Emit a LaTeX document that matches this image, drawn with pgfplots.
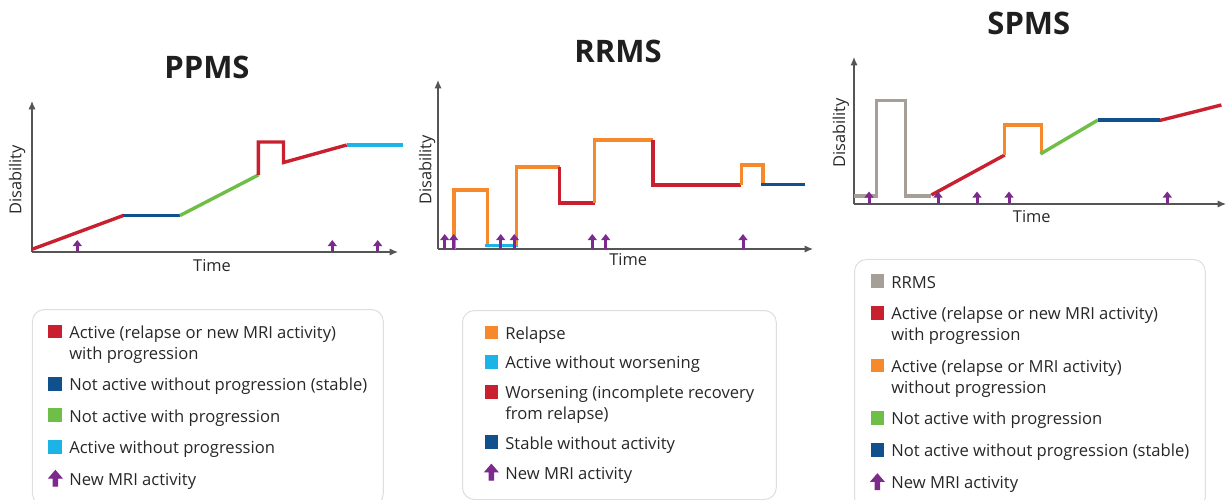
\documentclass[border=0pt]{standalone}
\usepackage{fontspec}
\setmainfont{Open Sans}
\usepackage{pgfplots}
\pgfplotsset{compat=1.18}
\usetikzlibrary{arrows.meta}
\definecolor{cRed}{RGB}{200,32,46}
\definecolor{cBlue}{RGB}{16,80,140}
\definecolor{cGreen}{RGB}{110,190,72}
\definecolor{cCyan}{RGB}{28,180,230}
\definecolor{cOrange}{RGB}{247,137,45}
\definecolor{cGray}{RGB}{166,159,151}
\definecolor{cPurple}{RGB}{125,42,142}
\definecolor{cAxis}{RGB}{85,85,85}
\definecolor{cText}{RGB}{40,40,40}
\definecolor{cBorder}{RGB}{222,222,222}

\newcommand\sqimg[1]{\addlegendimage{legend image code/.code={\fill[#1,sharp corners] (0pt,0.2pt) rectangle (6.4pt,6.6pt);}}}
\newcommand\arrimg{\addlegendimage{legend image code/.code={\fill[cPurple,sharp corners] (2.1pt,-0.4pt) -- (2.1pt,3.7pt) -- (0pt,3.7pt) -- (3.2pt,7.4pt) -- (6.4pt,3.7pt) -- (4.3pt,3.7pt) -- (4.3pt,-0.4pt) -- cycle;}}}
\newcommand\ent[1]{\addlegendentry{\begin{tabular}[t]{@{}l@{}}#1\end{tabular}}}

\pgfplotsset{
  msaxis/.style={
    scale only axis, axis lines=left, xtick=\empty, ytick=\empty,
    xmin=0, ymin=0,
    axis line style={draw=cAxis, line width=0.6pt, -{Latex[length=4.2pt,width=3.6pt]}},
    clip=false,
    xlabel=Time, ylabel=Disability,
    label style={font=\fontsize{8.2}{10}\selectfont, text=cText, anchor=center},
    title style={font=\fontsize{15.5}{18}\selectfont\bfseries, text=black!88, anchor=center, yshift=-5.8pt},
    legend cell align=left,
    legend style={font=\fontsize{8.3}{10.5}\selectfont, text=cText, draw=cBorder, line width=0.5pt, rounded corners=6pt, inner xsep=8pt, inner ysep=7pt, column sep=3.5pt, anchor=north west,
      cells={anchor=base west, inner sep=0pt, font=\fontsize{8.3}{10.5}\selectfont, text=cText},
      nodes={inner sep=0pt, text depth=, text height=, anchor=base west}},
  },
  seg/.style={#1, line width=1.7pt, line join=miter, forget plot},
  mri/.style={cPurple, line width=1.5pt, -{Triangle[width=4.4pt,length=3pt]}, quiver={u=0,v=#1}, forget plot},
}

\begin{document}
\begin{tikzpicture}
\useasboundingbox (0,0) rectangle (613.5pt,249.5pt);

% ---------------- PPMS ----------------
\begin{axis}[msaxis, at={(16pt,123.5pt)}, anchor=south west, width=183pt, height=75.5pt, xmax=366, ymax=151,
  title=PPMS, title style={at={(axis description cs:0.478,1.219)}},
  xlabel style={at={(axis description cs:0.492,-0.093)}},
  ylabel style={at={(axis description cs:-0.041,0.477)}},
  legend style={at={(0,-0.3775)}, row sep=5.2pt}]
\addplot[seg=cRed] coordinates {(0,2.7) (91.3,36.5)};
\addplot[seg=cBlue] coordinates {(91.3,36.5) (148,36.5)};
\addplot[seg=cGreen] coordinates {(148,36.5) (226.3,77)};
\addplot[seg=cRed] coordinates {(226.3,77) (226.3,110) (251.5,110) (251.5,89.5) (314.7,107)};
\addplot[seg=cCyan] coordinates {(314.7,107) (371.3,107)};
\addplot[mri=12] coordinates {(45.3,0) (300.3,0) (345.7,0)};
\sqimg{cRed}\ent{Active (relapse or new MRI activity)\\with progression}
\sqimg{cBlue}\ent{Not active without progression (stable)}
\sqimg{cGreen}\ent{Not active with progression}
\sqimg{cCyan}\ent{Active without progression}
\arrimg\ent{New MRI activity}
\end{axis}

% ---------------- RRMS ----------------
\begin{axis}[msaxis, at={(219pt,125pt)}, anchor=south west, width=187.5pt, height=84.5pt, xmax=375, ymax=169,
  title=RRMS, title style={at={(axis description cs:0.48,1.166)}},
  xlabel style={at={(axis description cs:0.507,-0.065)}},
  ylabel style={at={(axis description cs:-0.029,0.467)}},
  legend style={at={(0.064,-0.361)}, row sep=4.3pt, inner xsep=11pt}]
\addplot[seg=cOrange] coordinates {(16,0) (16,59) (49.4,59) (49.4,4)};
\addplot[seg=cCyan] coordinates {(46.7,3.5) (80,3.5)};
\addplot[seg=cOrange] coordinates {(78.4,3) (78.4,82) (121.7,82)};
\addplot[seg=cRed] coordinates {(121.7,82) (121.7,46) (156.7,46)};
\addplot[seg=cOrange] coordinates {(156.7,46) (156.7,109) (215,109)};
\addplot[seg=cRed] coordinates {(215,109) (215,64) (303.4,64)};
\addplot[seg=cOrange] coordinates {(303.4,64) (303.4,84) (325,84) (325,64)};
\addplot[seg=cBlue] coordinates {(323.4,64.3) (366.7,64.3)};
\addplot[mri=15] coordinates {(6.7,0) (15.7,0) (62.7,0) (76.3,0) (154.3,0) (167.7,0) (305,0)};
\sqimg{cOrange}\ent{Relapse}
\sqimg{cCyan}\ent{Active without worsening}
\sqimg{cRed}\ent{Worsening (incomplete recovery\\from relapse)}
\sqimg{cBlue}\ent{Stable without activity}
\arrimg\ent{New MRI activity}
\end{axis}

% ---------------- SPMS ----------------
\begin{axis}[msaxis, at={(427pt,147.5pt)}, anchor=south west, width=186pt, height=73.5pt, xmax=372, ymax=147,
  title=SPMS, title style={at={(axis description cs:0.47,1.224)}},
  xlabel style={at={(axis description cs:0.478,-0.088)}},
  ylabel style={at={(axis description cs:-0.035,0.483)}},
  legend style={at={(0,-0.3741)}, row sep=5.3pt}]
\addplot[seg=cGray] coordinates {(0,8) (22.4,8) (22.4,103.3) (51.7,103.3) (51.7,8) (77.4,8)};
\addplot[seg=cRed] coordinates {(77.4,9) (150.7,49)};
\addplot[seg=cOrange] coordinates {(150.7,49) (150.7,79) (187.4,79) (187.4,50)};
\addplot[seg=cGreen] coordinates {(186.4,50) (244,84)};
\addplot[seg=cBlue] coordinates {(244,84) (305.7,84)};
\addplot[seg=cRed] coordinates {(305.7,83.5) (367.4,99)};
\addplot[mri=12.5] coordinates {(15,0) (84,0) (123,0) (155,0) (313.3,0)};
\sqimg{cGray}\ent{RRMS}
\sqimg{cRed}\ent{Active (relapse or new MRI activity)\\with progression}
\sqimg{cOrange}\ent{Active (relapse or MRI activity)\\without progression}
\sqimg{cGreen}\ent{Not active with progression}
\sqimg{cBlue}\ent{Not active without progression (stable)}
\arrimg\ent{New MRI activity}
\end{axis}
\end{tikzpicture}
\end{document}
